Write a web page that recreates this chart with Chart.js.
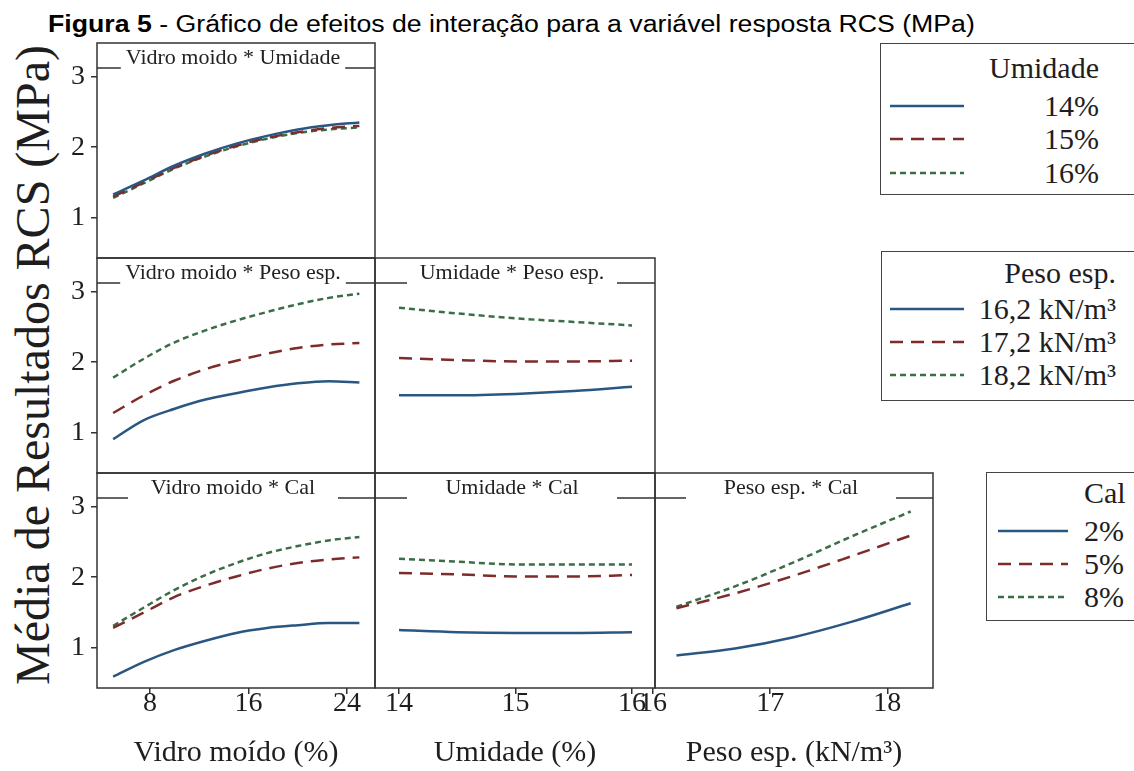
<!DOCTYPE html>
<html lang="pt">
<head>
<meta charset="utf-8">
<title>Figura 5</title>
<script src="https://cdn.jsdelivr.net/npm/chart.js@4.4.1/dist/chart.umd.min.js"></script>
<style>
  html, body { margin: 0; padding: 0; background: #fff; }
  body { position: relative; width: 1134px; height: 771px; overflow: hidden; font-family: 'Liberation Serif', 'Times New Roman', serif; color: #1e1e1e; }
  .layer { position: absolute; left: 0; top: 0; width: 1134px; height: 771px; }
  #figTitle { position: absolute; left: 48px; top: 13px; font: 23px/23px 'Liberation Sans', Arial, sans-serif; white-space: nowrap; transform: scaleX(1.16); transform-origin: 0 0; color: #000; }
  #yTitle { position: absolute; left: -317px; top: 337px; width: 700px; height: 56px; line-height: 56px; text-align: center; font-size: 48px; transform: rotate(-90deg); white-space: nowrap; }
  .legend { position: absolute; border: 1.5px solid #444; background: #fff; box-sizing: border-box; }
  .legend span { position: absolute; white-space: nowrap; font-size: 30px; line-height: 30px; }
  .legend svg { position: absolute; left: 0; top: 0; overflow: visible; }
</style>
</head>
<body>
<div id="figTitle"><b>Figura 5</b> - Gráfico de efeitos de interação para a variável resposta RCS (MPa)</div>
<div id="yTitle">Média de Resultados RCS (MPa)</div>
<script>
'use strict';

// x values along each factor
const vidroX = [5, 7.5, 10, 12.5, 15, 17.5, 20, 22.5, 25];
const umidadeX = [14, 14.5, 15, 15.5, 16];
const pesoX = [16.2, 16.7, 17.2, 17.7, 18.2];

// tick labels
const vidroTicks = [8, 16, 24];
const umidadeTicks = [14, 15, 16];
const pesoTicks = [16, 17, 18];
const rcsTicks = [1, 2, 3];

// legend levels
const umidadeLevels = ['14%', '15%', '16%'];
const pesoLevels = ['16,2 kN/m³', '17,2 kN/m³', '18,2 kN/m³'];
const calLevels = ['2%', '5%', '8%'];

// Vidro moido * Umidade
const vidroUmid14 = [1.33, 1.53, 1.74, 1.91, 2.05, 2.16, 2.25, 2.31, 2.35];
const vidroUmid15 = [1.30, 1.50, 1.71, 1.88, 2.02, 2.13, 2.21, 2.27, 2.30];
const vidroUmid16 = [1.28, 1.49, 1.70, 1.87, 2.01, 2.12, 2.20, 2.25, 2.28];

// Vidro moido * Peso esp.
const vidroPeso162 = [0.91, 1.18, 1.34, 1.47, 1.56, 1.64, 1.70, 1.73, 1.71];
const vidroPeso172 = [1.28, 1.53, 1.74, 1.90, 2.02, 2.12, 2.20, 2.25, 2.27];
const vidroPeso182 = [1.78, 2.05, 2.28, 2.45, 2.59, 2.71, 2.82, 2.91, 2.97];

// Umidade * Peso esp.
const umidPeso162 = [1.53, 1.53, 1.55, 1.59, 1.65];
const umidPeso172 = [2.06, 2.03, 2.01, 2.01, 2.02];
const umidPeso182 = [2.77, 2.69, 2.62, 2.57, 2.52];

// Vidro moido * Cal
const vidroCal2 = [0.59, 0.80, 0.97, 1.10, 1.21, 1.28, 1.32, 1.35, 1.35];
const vidroCal5 = [1.28, 1.50, 1.72, 1.88, 2.01, 2.12, 2.20, 2.25, 2.28];
const vidroCal8 = [1.31, 1.57, 1.82, 2.03, 2.20, 2.34, 2.44, 2.52, 2.57];

// Umidade * Cal
const umidCal2 = [1.25, 1.22, 1.21, 1.21, 1.22];
const umidCal5 = [2.06, 2.04, 2.01, 2.01, 2.03];
const umidCal8 = [2.26, 2.22, 2.18, 2.18, 2.18];

// Peso esp. * Cal
const pesoCal2 = [0.89, 0.99, 1.15, 1.37, 1.63];
const pesoCal5 = [1.56, 1.77, 2.02, 2.30, 2.59];
const pesoCal8 = [1.58, 1.87, 2.21, 2.58, 2.93];

const lineColors = ['#2a5782', '#7e2b2b', '#3b6d47'];
const lineDashes = [[], [13, 8], [6, 4]];

Chart.defaults.font.family = "'Liberation Serif', 'Times New Roman', serif";
Chart.defaults.color = '#1e1e1e';

const W = 1134, H = 771;
const Y_AXIS_W = 50;
const cols = [
  { l: 97, r: 375, min: 3.69, max: 26.27, ticks: vidroTicks, title: 'Vidro moído (%)' },
  { l: 375, r: 655, min: 13.794, max: 16.197, ticks: umidadeTicks, title: 'Umidade (%)' },
  { l: 655, r: 933, min: 16.017, max: 18.39, ticks: pesoTicks, title: 'Peso esp. (kN/m³)' },
];
const rows = [{ t: 43, b: 258 }, { t: 258, b: 473 }, { t: 473, b: 688 }];

const panels = [
  { row: 0, col: 0, title: 'Vidro moido * Umidade', x: vidroX, series: [vidroUmid14, vidroUmid15, vidroUmid16], levels: umidadeLevels },
  { row: 1, col: 0, title: 'Vidro moido * Peso esp.', x: vidroX, series: [vidroPeso162, vidroPeso172, vidroPeso182], levels: pesoLevels },
  { row: 1, col: 1, title: 'Umidade * Peso esp.', x: umidadeX, series: [umidPeso162, umidPeso172, umidPeso182], levels: pesoLevels },
  { row: 2, col: 0, title: 'Vidro moido * Cal', x: vidroX, series: [vidroCal2, vidroCal5, vidroCal8], levels: calLevels },
  { row: 2, col: 1, title: 'Umidade * Cal', x: umidadeX, series: [umidCal2, umidCal5, umidCal8], levels: calLevels },
  { row: 2, col: 2, title: 'Peso esp. * Cal', x: pesoX, series: [pesoCal2, pesoCal5, pesoCal8], levels: calLevels },
];

// box round each panel plus the title strip at its top
const panelFrame = {
  id: 'panelFrame',
  afterDraw(chart, args, opts) {
    const { ctx, chartArea: a } = chart;
    ctx.save();
    ctx.strokeStyle = '#333';
    ctx.lineWidth = 1.5;
    ctx.strokeRect(a.left, a.top, a.right - a.left, a.bottom - a.top);
    ctx.font = "22px 'Liberation Serif'";
    ctx.fillStyle = '#222';
    ctx.textAlign = 'center';
    ctx.textBaseline = 'middle';
    const cx = (a.left + a.right) / 2 - 3;
    ctx.fillText(opts.text, cx, a.top + 15);
    const half = Math.max(ctx.measureText(opts.text).width + 10, 210) / 2;
    const ly = a.top + 25;
    ctx.beginPath();
    ctx.moveTo(a.left, ly); ctx.lineTo(cx - half, ly);
    ctx.moveTo(cx + half, ly); ctx.lineTo(a.right, ly);
    ctx.stroke();
    ctx.restore();
  }
};

const tickGrid = { drawOnChartArea: false, drawTicks: true, tickLength: 6, color: '#333', lineWidth: 1.5 };

panels.forEach(p => {
  const col = cols[p.col], row = rows[p.row];
  const showX = p.row === 2, showY = p.col === 0;
  const wrap = document.createElement('div');
  wrap.className = 'layer';
  const canvas = document.createElement('canvas');
  wrap.appendChild(canvas);
  document.body.appendChild(wrap);

  new Chart(canvas, {
    type: 'line',
    data: {
      datasets: p.series.map((s, i) => ({
        label: p.levels[i],
        data: p.x.map((x, j) => ({ x, y: s[j] })),
        borderColor: lineColors[i],
        borderDash: lineDashes[i],
        borderWidth: 2.5,
        pointRadius: 0,
        cubicInterpolationMode: 'monotone',
        fill: false,
      })),
    },
    options: {
      responsive: true,
      maintainAspectRatio: false,
      animation: false,
      devicePixelRatio: 1,
      layout: {
        padding: {
          left: col.l - (showY ? Y_AXIS_W : 0),
          right: W - col.r,
          top: row.t,
          bottom: showX ? 0 : H - row.b,
        },
      },
      plugins: { legend: { display: false }, tooltip: { enabled: false }, panelFrame: { text: p.title } },
      scales: {
        x: {
          type: 'linear', min: col.min, max: col.max, display: showX,
          afterBuildTicks: s => { s.ticks = col.ticks.map(v => ({ value: v })); },
          afterFit: s => { s.height = showX ? H - row.b : 0; },
          grid: tickGrid,
          border: { display: false },
          ticks: { font: { size: 28 }, padding: -7, maxRotation: 0, autoSkip: false },
          title: { display: true, text: col.title, font: { size: 30 }, padding: { top: 0, bottom: 0 } },
        },
        y: {
          type: 'linear', min: 0.43, max: 3.475, display: showY,
          afterBuildTicks: s => { s.ticks = rcsTicks.map(v => ({ value: v })); },
          afterFit: s => { s.width = showY ? Y_AXIS_W : 0; },
          grid: tickGrid,
          border: { display: false },
          ticks: { font: { size: 28 }, padding: 6 },
        },
      },
    },
    plugins: [panelFrame],
  });
});

// legends, drawn as boxes at the right
const legendBoxes = [
  { title: 'Umidade', levels: umidadeLevels, left: 880, top: 43, bottom: 195, align: 'right', textX: 1098, titleY: 67, rowY: [105, 138, 172], sample: [889, 963] },
  { title: 'Peso esp.', levels: pesoLevels, left: 881, top: 251, bottom: 401, align: 'right', textX: 1115, titleY: 272, rowY: [308, 341, 374], sample: [889, 963] },
  { title: 'Cal', levels: calLevels, left: 986, top: 472, bottom: 621, align: 'left', textX: 1083, titleY: 492, rowY: [530, 563, 596], sample: [997, 1067] },
];

legendBoxes.forEach(lg => {
  const box = document.createElement('div');
  box.className = 'legend';
  box.style.left = lg.left + 'px';
  box.style.top = lg.top + 'px';
  box.style.width = (W + 10 - lg.left) + 'px';
  box.style.height = (lg.bottom - lg.top) + 'px';
  const addText = (txt, y) => {
    const s = document.createElement('span');
    s.textContent = txt;
    s.style.left = (lg.textX - lg.left) + 'px';
    s.style.top = (y - lg.top) + 'px';
    s.style.transform = lg.align === 'right' ? 'translate(-100%, -50%)' : 'translate(0, -50%)';
    box.appendChild(s);
  };
  addText(lg.title, lg.titleY);
  const ns = 'http://www.w3.org/2000/svg';
  const svg = document.createElementNS(ns, 'svg');
  svg.setAttribute('width', W + 10 - lg.left);
  svg.setAttribute('height', lg.bottom - lg.top);
  lg.levels.forEach((lv, i) => {
    addText(lv, lg.rowY[i]);
    const ln = document.createElementNS(ns, 'line');
    const y = lg.rowY[i] - lg.top;
    ln.setAttribute('x1', lg.sample[0] - lg.left);
    ln.setAttribute('x2', lg.sample[1] - lg.left);
    ln.setAttribute('y1', y);
    ln.setAttribute('y2', y);
    ln.setAttribute('stroke', lineColors[i]);
    ln.setAttribute('stroke-width', 2.5);
    if (lineDashes[i].length) ln.setAttribute('stroke-dasharray', lineDashes[i].join(' '));
    svg.appendChild(ln);
  });
  box.appendChild(svg);
  document.body.appendChild(box);
});
</script>
</body>
</html>
